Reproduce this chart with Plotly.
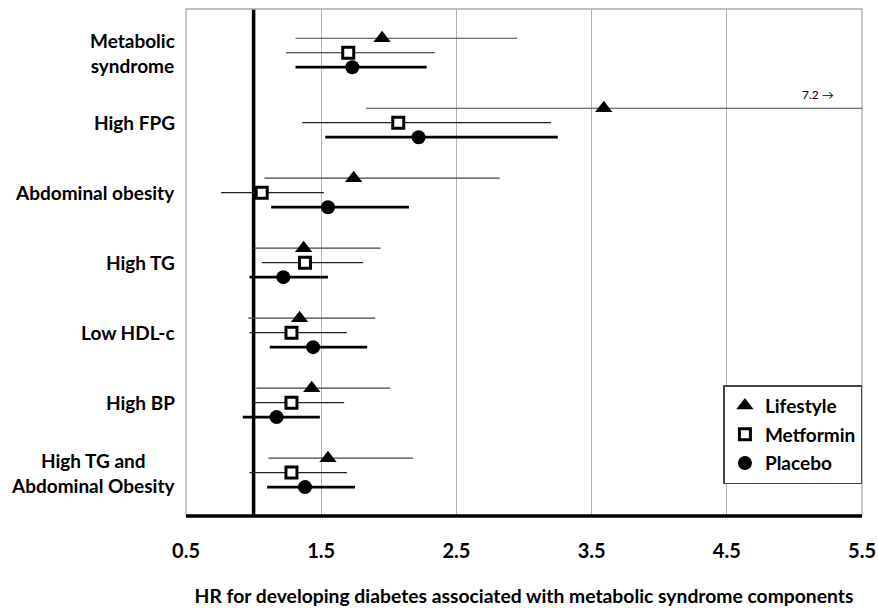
import plotly.graph_objects as go

categories = ["Metabolic<br>syndrome", "High FPG", "Abdominal obesity", "High TG",
              "Low HDL-c", "High BP", "High TG and<br>Abdominal Obesity"]

lifestyle_hr = [1.95, 3.59, 1.74, 1.37, 1.34, 1.43, 1.55]
lifestyle_lo = [1.31, 1.83, 1.08, 1.00, 0.96, 1.02, 1.11]
lifestyle_hi = [2.95, 7.20, 2.82, 1.94, 1.90, 2.01, 2.18]

metformin_hr = [1.70, 2.07, 1.06, 1.38, 1.28, 1.28, 1.28]
metformin_lo = [1.24, 1.36, 0.76, 1.06, 0.97, 1.00, 0.97]
metformin_hi = [2.34, 3.20, 1.52, 1.81, 1.69, 1.67, 1.69]

placebo_hr = [1.73, 2.22, 1.55, 1.22, 1.44, 1.17, 1.38]
placebo_lo = [1.31, 1.53, 1.13, 0.97, 1.12, 0.92, 1.10]
placebo_hi = [2.28, 3.25, 2.15, 1.55, 1.84, 1.49, 1.75]

x_ticks = [0.5, 1.5, 2.5, 3.5, 4.5, 5.5]
REFERENCE_HR = 1.0
X_MIN, X_MAX = 0.5, 5.5
TRUNCATED_LABEL = "7.2 →"

FONT = "Lato"
OFFSET = 0.207

series = [
    ("Lifestyle", lifestyle_hr, lifestyle_lo, lifestyle_hi, -OFFSET,
     dict(symbol="triangle-up", size=15, color="black"), "#444444", 1.2),
    ("Metformin", metformin_hr, metformin_lo, metformin_hi, 0.0,
     dict(symbol="square", size=11, color="white", line=dict(color="black", width=3)), "#222222", 1.2),
    ("Placebo", placebo_hr, placebo_lo, placebo_hi, OFFSET,
     dict(symbol="circle", size=14, color="black"), "black", 2.8),
]

fig = go.Figure()
for i, (name, hr, lo, hi, off, marker, ecol, ew) in enumerate(series):
    ys = [k + off for k in range(len(categories))]
    fig.add_trace(go.Scatter(
        x=hr, y=ys, mode="markers", name=name, marker=marker,
        legendgroup=name,
        error_x=dict(type="data", symmetric=False,
                     array=[h - m for h, m in zip(hi, hr)],
                     arrayminus=[m - l for m, l in zip(hr, lo)],
                     color=ecol, thickness=ew, width=0),
    ))

annotations = []
for k, cat in enumerate(categories):
    annotations.append(dict(
        x=0, xref="paper", y=k, yref="y", xanchor="right", yanchor="middle",
        xshift=-9, text=cat, showarrow=False, align="center",
        font=dict(family=FONT, size=19, color="black", weight="bold")))

fpg_idx = categories.index("High FPG")
annotations.append(dict(
    x=X_MAX, xref="x", y=fpg_idx - OFFSET, yref="y", xanchor="right", yanchor="bottom",
    xshift=-26, yshift=4, text=TRUNCATED_LABEL, showarrow=False,
    font=dict(family=FONT, size=12, color="black")))

shapes = [
    dict(type="line", xref="x", yref="paper", x0=REFERENCE_HR, x1=REFERENCE_HR, y0=0, y1=1,
         line=dict(color="black", width=3.5), layer="between"),
    dict(type="rect", xref="paper", yref="paper", x0=0, x1=1, y0=0, y1=1,
         line=dict(color="#aaaaaa", width=1.3), layer="below"),
    dict(type="line", xref="paper", yref="paper", x0=0, x1=1, y0=0, y1=0,
         line=dict(color="black", width=3.5), layer="above"),
]

fig.update_layout(
    width=878, height=608,
    margin=dict(l=186, r=16, t=9, b=92, autoexpand=False),
    paper_bgcolor="white", plot_bgcolor="white",
    showlegend=True,
    legend=dict(x=0.795, y=0.258, xanchor="left", yanchor="top",
                bordercolor="#444444", borderwidth=1.5, bgcolor="white",
                traceorder="grouped", tracegroupgap=1, itemwidth=30,
                font=dict(family=FONT, size=19, color="black", weight="bold")),
    xaxis=dict(range=[X_MIN, X_MAX], tickvals=x_ticks, ticktext=[str(v) for v in x_ticks],
               automargin=False,
               showgrid=True, gridcolor="#b0b0b0", gridwidth=1.3, zeroline=False,
               showline=False, ticks="", ticklabelstandoff=21,
               tickfont=dict(family=FONT, size=20, color="black", weight="bold"),
               title=dict(text="HR for developing diabetes associated with metabolic syndrome components",
                          font=dict(family=FONT, size=19.3, color="black", weight="bold"),
                          standoff=28)),
    yaxis=dict(range=[6.62, -0.625], showgrid=False, zeroline=False, showticklabels=False,
               automargin=False, showline=False, ticks=""),
    annotations=annotations,
    shapes=shapes,
)

# remove the browser's default page margin so the figure fills the window exactly
fig.write_html("out.html",
               config={"displayModeBar": False},
               post_script="document.body.style.margin='0px';document.body.style.overflow='hidden';")
